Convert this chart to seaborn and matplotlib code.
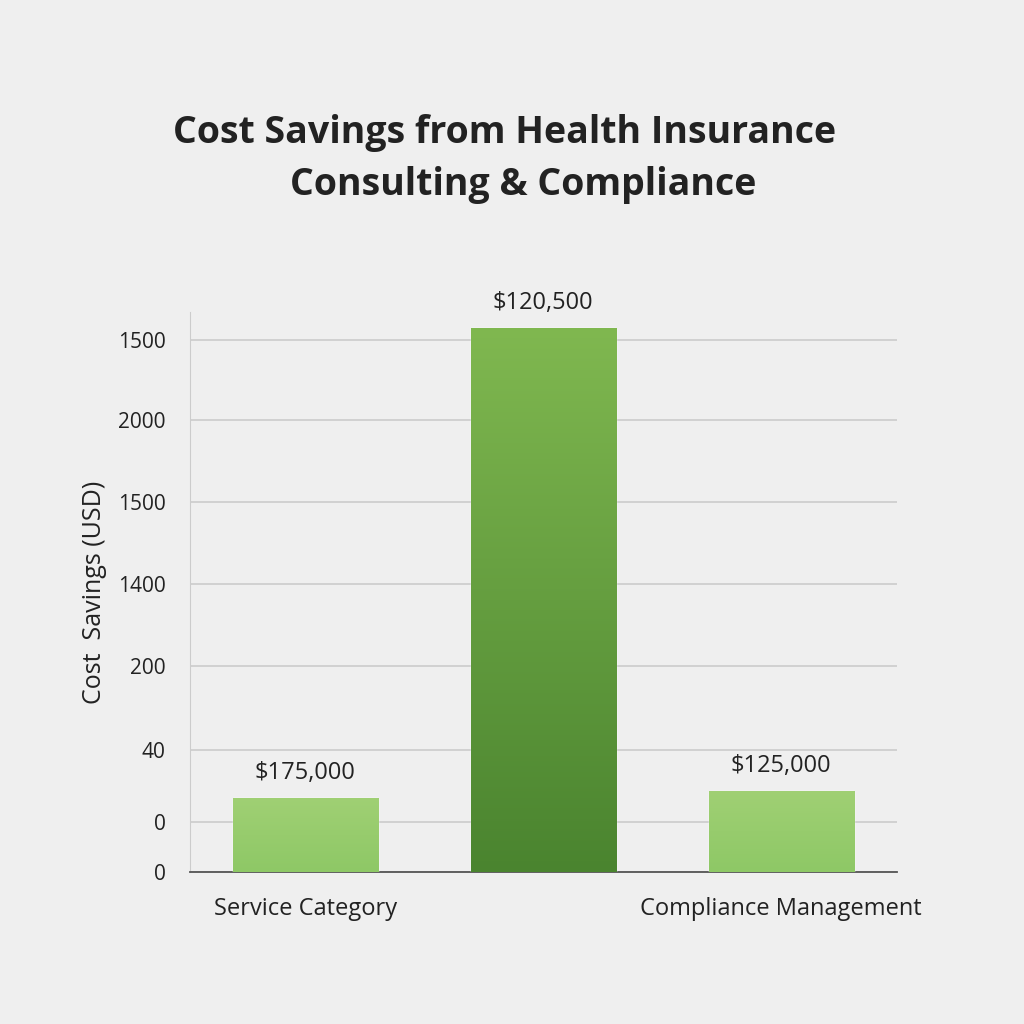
import numpy as np
import matplotlib
matplotlib.use("Agg")
import matplotlib.pyplot as plt
import seaborn as sns
from matplotlib.colors import LinearSegmentedColormap

categories = ["Service Category", "Consulting", "Compliance Management"]
heights = [222, 1632, 243]
bar_labels = ["$175,000", "$120,500", "$125,000"]
tick_pos = [0, 150, 366, 618, 864, 1110, 1356, 1596]
tick_labels = ["0", "0", "40", "200", "1400", "1500", "2000", "1500"]

sns.set_style("white")
plt.rcParams['font.family'] = ['Open Sans', 'DejaVu Sans']

fig = plt.figure(figsize=(10.24, 10.24), dpi=100, facecolor="#efefef")
ax = fig.add_axes([0.186, 0.148, 0.69, 0.547])
ax.set_facecolor("none")

x = np.arange(len(categories))
sns.barplot(x=x, y=heights, ax=ax, width=0.61,
            palette=["#8dc665", "#5f9f3f", "#8dc665"], hue=x, legend=False,
            zorder=3)

# vertical gradient on bars
for i, patch in enumerate(ax.patches):
    bx, by = patch.get_x(), patch.get_y()
    bw, bh = patch.get_width(), patch.get_height()
    if i == 1:
        cmap = LinearSegmentedColormap.from_list("g", ["#4a842f", "#80b850"])
    else:
        cmap = LinearSegmentedColormap.from_list("g", ["#8ec866", "#a0d074"])
    grad = np.linspace(0, 1, 256).reshape(-1, 1)
    im = ax.imshow(grad, cmap=cmap, aspect="auto", origin="lower",
                   extent=[bx, bx + bw, by, by + bh], zorder=4)
    im.set_clip_path(patch)
    ax.text(bx + bw / 2, by + bh + 40, bar_labels[i], ha="center", va="bottom",
            fontsize=17, color="#222222", zorder=5)

ax.set_xlim(-0.483, 2.487)
ax.set_ylim(0, 1680)
ax.set_yticks(tick_pos)
ax.set_yticklabels(tick_labels, fontsize=15, color="#222222")
ax.set_xticks([0, 2])
ax.set_xticklabels(["Service Category", "Compliance Management"], fontsize=17, color="#222222")
ax.tick_params(axis="x", length=0, pad=18)
ax.tick_params(axis="y", length=0, pad=18)
ax.grid(axis="y", color="#cccccc", linewidth=1.2, zorder=0)
for s in ["top", "right"]:
    ax.spines[s].set_visible(False)
ax.spines["left"].set_color("#cccccc")
ax.spines["bottom"].set_color("#555555")
ax.spines["bottom"].set_linewidth(1.3)
ax.set_ylabel("Cost  Savings (USD)", fontsize=18, color="#222222", labelpad=8)

fig.text(0.493, 0.87, "Cost Savings from Health Insurance", ha="center", va="center",
         fontsize=27, fontweight="bold", color="#222222")
fig.text(0.511, 0.819, "Consulting & Compliance", ha="center", va="center",
         fontsize=27, fontweight="bold", color="#222222")

fig.savefig("out.png", dpi=100, facecolor=fig.get_facecolor())
